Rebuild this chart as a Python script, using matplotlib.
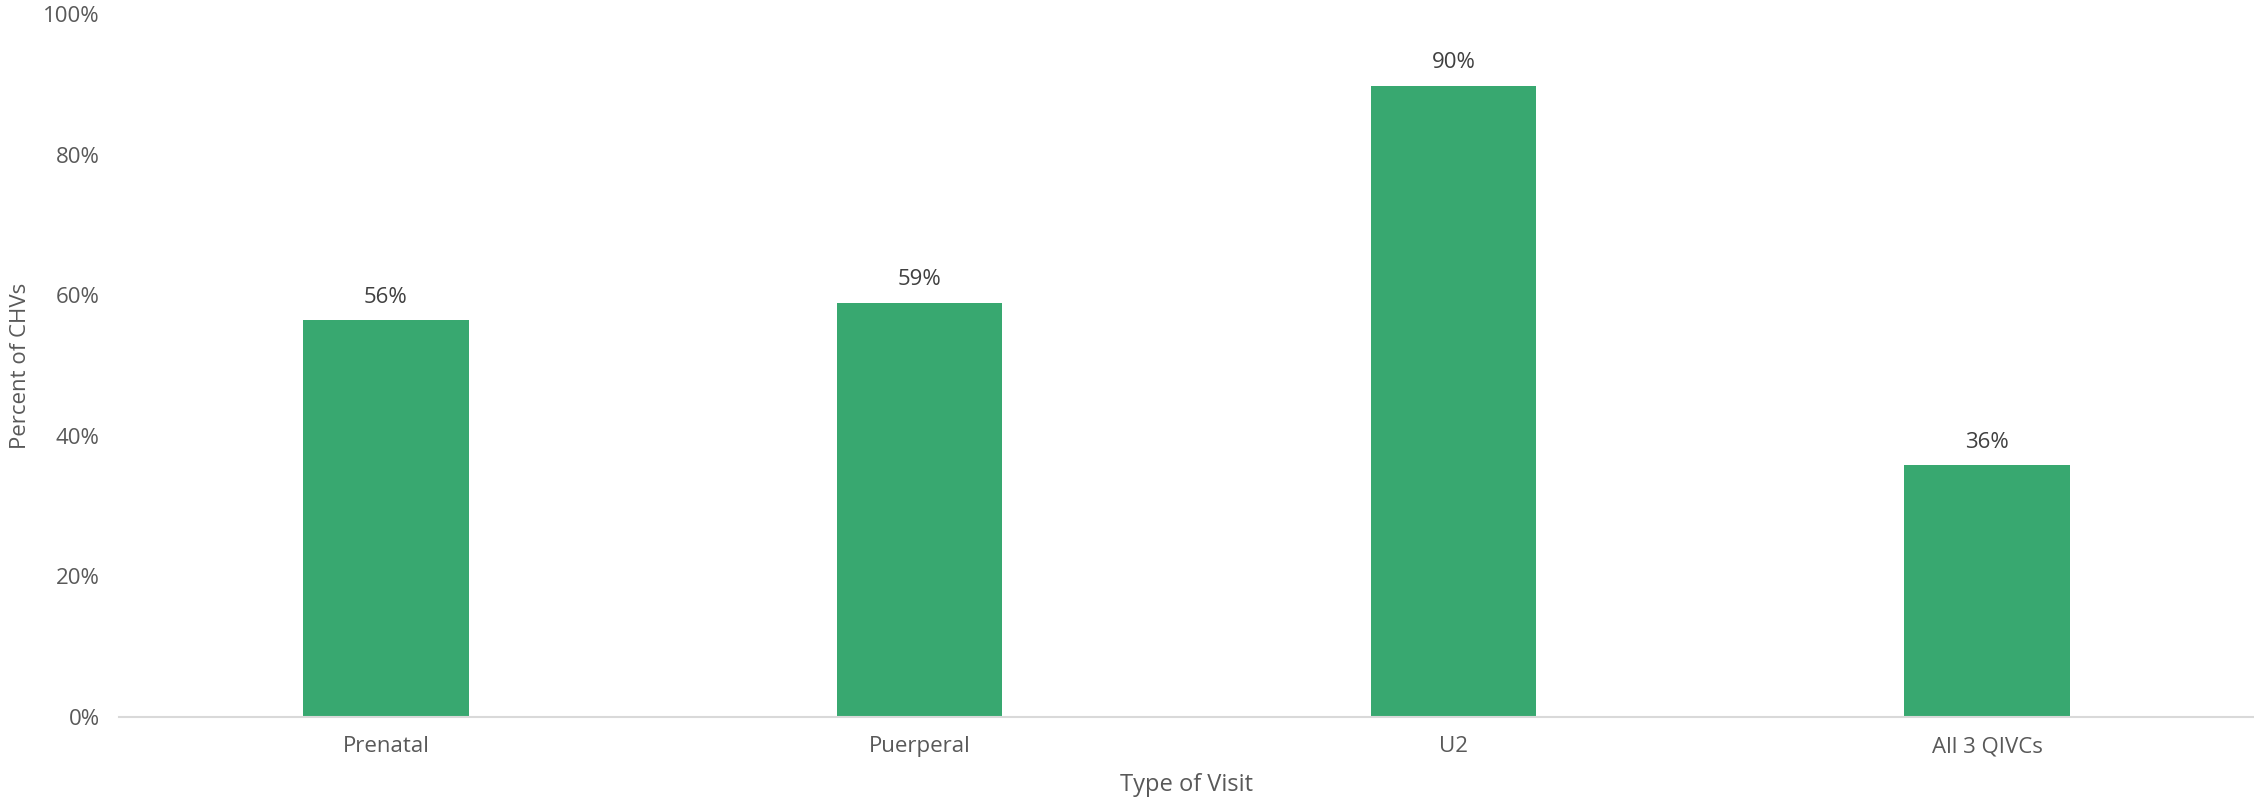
import matplotlib
matplotlib.use("Agg")
import matplotlib.pyplot as plt
import numpy as np

# Dados do gráfico
categorias = ["Prenatal", "Puerperal", "U2", "All 3 QIVCs"]
valores = [56.4, 58.9, 89.8, 35.8]
rotulos = ["56%", "59%", "90%", "36%"]
ticks_y = [0, 20, 40, 60, 80, 100]
rotulos_y = ["0%", "20%", "40%", "60%", "80%", "100%"]

plt.rcParams['font.family'] = ['Open Sans', 'DejaVu Sans']
cor_texto = "#595959"
cor_barra = "#38A870"

fig = plt.figure(figsize=(22.54, 7.98), dpi=100)
ax = fig.add_axes([0.0528, 0.1015, 0.9472, 0.881])

x = np.arange(len(categorias))
barras = ax.bar(x, valores, width=0.31, color=cor_barra, zorder=2)

# Rótulos acima das barras
for b, r in zip(barras, rotulos):
    ax.annotate(r, (b.get_x() + b.get_width() / 2, b.get_height()),
                xytext=(0, 9), textcoords="offset points",
                ha="center", va="bottom", fontsize=16, color="#404040")

ax.set_xlim(-0.5, len(categorias) - 0.5)
ax.set_ylim(0, 100)
ax.set_xticks(x)
ax.set_xticklabels(categorias)
ax.set_yticks(ticks_y)
ax.set_yticklabels(rotulos_y)
ax.tick_params(axis="both", length=0, labelsize=16, colors=cor_texto)
ax.tick_params(axis="y", pad=14)
ax.tick_params(axis="x", pad=14)

for lado in ["top", "right", "left"]:
    ax.spines[lado].set_visible(False)
ax.spines["bottom"].set_color("#D9D9D9")
ax.spines["bottom"].set_linewidth(1.5)

ax.set_xlabel("Type of Visit", fontsize=17, color=cor_texto, labelpad=11)
ax.set_ylabel("Percent of CHVs", fontsize=16, color=cor_texto)
ax.yaxis.set_label_coords(-0.041, 0.5)

fig.savefig("out.png", dpi=100, facecolor="white")
